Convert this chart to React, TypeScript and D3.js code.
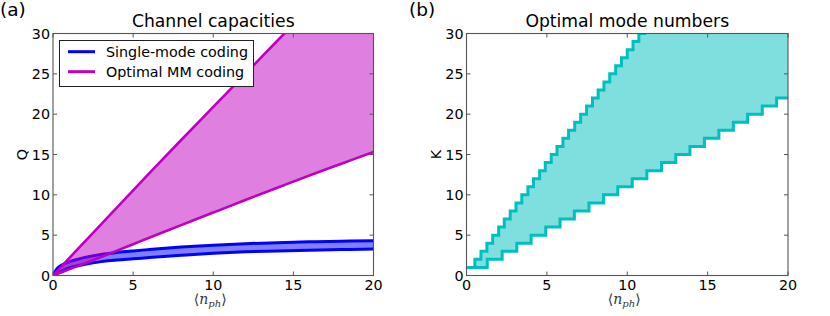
import React from 'react';
import * as d3 from 'd3';

// ---- Data ----
const xTicks = [0, 5, 10, 15, 20];
const yTicks = [0, 5, 10, 15, 20, 25, 30];

// Panel (a): capacities vs <n_ph>
const nph = [0, 0.25, 0.5, 1, 1.5, 2, 3, 4, 5, 6, 8, 10, 12, 14, 16, 18, 20];
const singleUpper = [0, 0.85, 1.25, 1.7, 2.0, 2.25, 2.62, 2.86, 3.05, 3.22, 3.52, 3.76, 3.94, 4.07, 4.17, 4.25, 4.31];
const singleLower = [0, 0.3, 0.55, 0.95, 1.2, 1.4, 1.72, 1.93, 2.07, 2.22, 2.5, 2.75, 2.93, 3.05, 3.14, 3.22, 3.28];
const mmUpper = [0, 0.53, 1.06, 2.12, 3.18, 4.24, 6.35, 8.45, 10.55, 12.65, 16.8, 20.9, 25.0, 29.1, 33.2, 37.3, 41.4];
const mmLower = [0, 0.18, 0.37, 0.76, 1.14, 1.52, 2.3, 3.08, 3.88, 4.68, 6.24, 7.8, 9.35, 10.88, 12.4, 13.86, 15.32];

// Panel (b): optimal mode numbers (step functions)
const upperX = [0, 0.52, 0.9, 1.27, 1.63, 2.0, 2.35, 2.72, 3.08, 3.44, 3.82, 4.17, 4.55, 4.9, 5.27, 5.63, 6.0, 6.35, 6.73, 7.1, 7.47, 7.84, 8.19, 8.55, 8.91, 9.28, 9.64, 10.0, 10.36, 10.72, 11.08];
const upperK = [1, 2, 3, 4, 5, 6, 7, 8, 9, 10, 11, 12, 13, 14, 15, 16, 17, 18, 19, 20, 21, 22, 23, 24, 25, 26, 27, 28, 29, 30, 31];
const lowerX = [0, 1.29, 2.22, 3.13, 4.02, 4.93, 5.82, 6.71, 7.62, 8.52, 9.41, 10.31, 11.22, 12.13, 13.02, 13.9, 14.8, 15.7, 16.6, 17.49, 18.4, 19.29];
const lowerK = [1, 2, 3, 4, 5, 6, 7, 8, 9, 10, 11, 12, 13, 14, 15, 16, 17, 18, 19, 20, 21, 22];

const FONT = '"DejaVu Sans", sans-serif';
const TOP = 33.5;
const BOTTOM = 275.5;

function Frame({ x, y, title, ylabel, panel, panelX }: any) {
  const [x0, x1] = x.range();
  return (
    <g>
      <rect x={x0} y={TOP} width={x1 - x0} height={BOTTOM - TOP} fill="none" stroke="#555" strokeWidth={1.1} />
      {xTicks.map((t) => (
        <g key={'xt' + t}>
          <line x1={x(t)} x2={x(t)} y1={BOTTOM} y2={BOTTOM - 4} stroke="#555" />
          <line x1={x(t)} x2={x(t)} y1={TOP} y2={TOP + 4} stroke="#555" />
          <text x={x(t)} y={BOTTOM + 14.5} textAnchor="middle" fontSize={14.3} fontFamily={FONT}>{t}</text>
        </g>
      ))}
      {yTicks.map((t) => (
        <g key={'yt' + t}>
          <line x1={x0} x2={x0 + 4} y1={y(t)} y2={y(t)} stroke="#555" />
          <line x1={x1} x2={x1 - 4} y1={y(t)} y2={y(t)} stroke="#555" />
          <text x={x0 - 3} y={y(t) + 5.2} textAnchor="end" fontSize={14.3} fontFamily={FONT}>{t}</text>
        </g>
      ))}
      <text x={(x0 + x1) / 2} y={26.5} textAnchor="middle" fontSize={17.2} fontFamily={FONT}>{title}</text>
      <text transform={`translate(${x0 - 26},${(TOP + BOTTOM) / 2}) rotate(-90)`} textAnchor="middle" fontSize={14.3} fontFamily={FONT}>{ylabel}</text>
      <text x={(x0 + x1) / 2 - 3} y={304} textAnchor="middle" fontSize={14} fontFamily='"DejaVu Serif", serif' fill="#333">
        ⟨<tspan fontStyle="italic">n</tspan><tspan fontStyle="italic" fontSize={10} dy={3}>ph</tspan><tspan dy={-3}>⟩</tspan>
      </text>
      <text x={panelX} y={15.5} fontSize={18.5} fontFamily={FONT}>{panel}</text>
    </g>
  );
}

export default function App() {
  const xa = d3.scaleLinear().domain([0, 20]).range([53, 373.5]);
  const xb = d3.scaleLinear().domain([0, 20]).range([466.5, 788]);
  const y = d3.scaleLinear().domain([0, 30]).range([BOTTOM, TOP]);

  const lineA = (vals: number[]) =>
    d3.line<number>().x((_, i) => xa(nph[i])).y((d) => y(d)).curve(d3.curveMonotoneX)(vals) || '';
  const areaA = (lo: number[], hi: number[]) =>
    d3.area<number>().x((_, i) => xa(nph[i])).y0((_, i) => y(lo[i])).y1((d) => y(d)).curve(d3.curveMonotoneX)(hi) || '';

  const stepVal = (xs: number[], ks: number[], v: number) => ks[Math.max(0, d3.bisectRight(xs, v) - 1)];
  const stepPts = (xs: number[], ks: number[]) => {
    const pts: [number, number][] = xs.map((v, i) => [v, ks[i]]);
    pts.push([20, ks[ks.length - 1]]);
    return pts;
  };
  const stepLine = d3.line<[number, number]>().x((d) => xb(d[0])).y((d) => y(d[1])).curve(d3.curveStepAfter);
  const merged = Array.from(new Set([...upperX, ...lowerX, 20])).sort((a, b) => a - b);
  const stepArea = d3.area<number>()
    .x((d) => xb(d))
    .y0((d) => y(stepVal(lowerX, lowerK, d)))
    .y1((d) => y(stepVal(upperX, upperK, d)))
    .curve(d3.curveStepAfter)(merged) || '';

  const [a0, a1] = xa.range();
  const [b0, b1] = xb.range();

  return (
    <svg width={830} height={316} style={{ position: 'absolute', left: 0, top: 0, background: '#fff' }}>
      <defs>
        <clipPath id="clipA"><rect x={a0} y={TOP} width={a1 - a0} height={BOTTOM - TOP} /></clipPath>
        <clipPath id="clipB"><rect x={b0} y={TOP} width={b1 - b0} height={BOTTOM - TOP} /></clipPath>
      </defs>
      <rect x={0} y={0} width={830} height={316} fill="#fff" />
      {/* Panel (a) */}
      <g clipPath="url(#clipA)">
        <path d={areaA(singleLower, singleUpper)} fill="rgba(0,0,255,0.5)" />
        <path d={lineA(singleUpper)} fill="none" stroke="#0000ff" strokeWidth={3} />
        <path d={lineA(singleLower)} fill="none" stroke="#0000ff" strokeWidth={3} />
        <path d={areaA(mmLower, mmUpper)} fill="rgba(191,0,191,0.5)" />
        <path d={lineA(mmUpper)} fill="none" stroke="#bf00bf" strokeWidth={2.6} />
        <path d={lineA(mmLower)} fill="none" stroke="#bf00bf" strokeWidth={2.6} />
      </g>
      <Frame x={xa} y={y} title="Channel capacities" ylabel="Q" panel="(a)" panelX={0} />
      {/* Legend */}
      <g>
        <rect x={59.5} y={40.5} width={194} height={46} fill="#fff" stroke="#222" strokeWidth={1} />
        <line x1={68} x2={95} y1={51.7} y2={51.7} stroke="#0000ff" strokeWidth={3} />
        <text x={106} y={57} fontSize={14.3} fontFamily={FONT}>Single-mode coding</text>
        <line x1={68} x2={95} y1={71.7} y2={71.7} stroke="#bf00bf" strokeWidth={3} />
        <text x={106} y={77} fontSize={14.3} fontFamily={FONT}>Optimal MM coding</text>
      </g>
      {/* Panel (b) */}
      <g clipPath="url(#clipB)">
        <path d={stepArea} fill="rgba(0,191,191,0.5)" />
        <path d={stepLine(stepPts(upperX, upperK)) || ''} fill="none" stroke="#00bfbf" strokeWidth={3} />
        <path d={stepLine(stepPts(lowerX, lowerK)) || ''} fill="none" stroke="#00bfbf" strokeWidth={3} />
      </g>
      <Frame x={xb} y={y} title="Optimal mode numbers" ylabel="K" panel="(b)" panelX={409} />
    </svg>
  );
}
